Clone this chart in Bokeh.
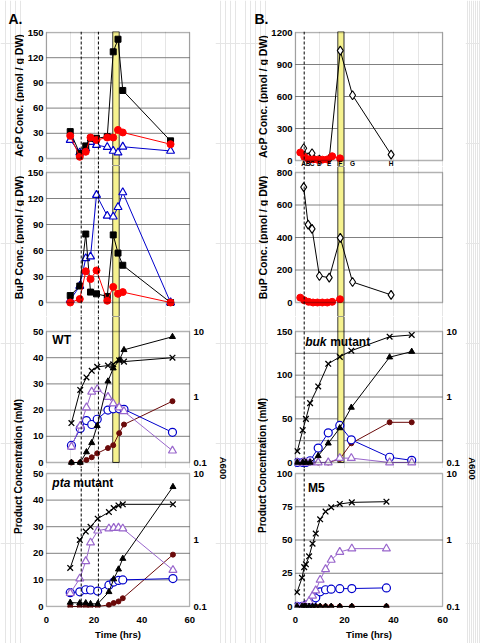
import math
from bokeh.plotting import figure
from bokeh.layouts import row, column
from bokeh.models import (Range1d, LogAxis, LogScale, FixedTicker, NumeralTickFormatter,
                          BoxAnnotation, Span, Label)
from bokeh.core.properties import value
from bokeh.embed import file_html
from bokeh.resources import INLINE

# ------------------------------------------------------------------ data
# ---- A. phosphate pools (wild type) ----
t_wt_phos = [10, 14, 16.5, 18.5, 21, 25.5, 28, 30, 32, 52]
acp_wt_sq = [32, 6, 15, 24, 24, 26, 127, 142, 81, 21]
acp_wt_ci = [27, 2, 8, 25, 22, 25, 25, 34, 31, 17]
acp_wt_tr = [22, 7, 12, 19.5, 16, 13.5, 9, 7, 14, 9]
bup_wt_sq = [8, 19, 79, 12, 10, 7, 78, 57, 43, 0]
bup_wt_ci = [0, 4, 36, 27, 37, 2, 18, 10, 12, 0]
bup_wt_tr = [3, 19, 51, 53, 124, 100, 99, 110, 127, 0]

# ---- A. products, WT ----
t_wt = [10.5, 14.2, 16.8, 19, 21.3, 25.8, 28, 30.5, 32.5, 52.8]
wt_a600 = [0.40, 1.28, 1.99, 2.51, 2.88, 3.02, 3.16, 3.63, 3.47, 3.98]
wt_tri = [0, 0, 4, 7.5, 14, 31, 36, 39, 43, 48]
wt_purple = [6, 14, 21, 27, 28, 25, 22.5, 21, 19.5, 4.5]
wt_blue = [6.5, 13, 16, 14.5, 16.5, 20, 20.5, 20.5, 20.3, 11.5]
wt_maroon = [0, 0, 1, 2, 3.5, 5.5, 6.6, 11.2, 14.5, 23.4]

# ---- A. products, pta mutant ----
t_pta = [10, 14, 16.5, 18.5, 21.5, 26.2, 28.2, 30.2, 32, 53]
pta_a600 = [0.38, 1.0, 1.34, 1.58, 2.09, 2.63, 3.02, 3.31, 3.44, 3.44]
pta_tri = [1.5, 1.3, 1.3, 1, 1, 5.5, 10.3, 14, 18, 45]
pta_purple = [5, 10.5, 17, 24, 28.5, 29.3, 29.5, 29.6, 29.3, 13.7]
pta_blue = [5.2, 5.5, 6.3, 6.2, 5.8, 8, 9.2, 9.8, 10, 10.5]
pta_maroon = [0, 0, 0, 0, 0, 0.6, 1.3, 1.9, 3.1, 19.5]

# ---- B. phosphate pools (buk mutant) ----
t_samp = [3.4, 5.2, 6.8, 9.8, 13.8, 18.3, 23.3, 39.0]
samp_letters = ["A", "B", "C", "D", "E", "F", "G", "H"]
acp_buk_dia = [115, 30, 68, 8, 15, 1030, 612, 55]
bup_buk_dia = [710, 479, 453, 163, 153, 398, 126, 47]
t_red = [2.0, 3.6, 5.4, 7.2, 9.0, 11.0, 13.0, 15.0, 18.2]
acp_red = [75, 35, 12, 10, 8, 8, 10, 40, 20]
bup_red = [30, 14, 4, 0, 0, 0, 0, 4, 20]

# ---- B. products, buk mutant ----
t_buk = [0.8, 3.0, 4.3, 6.0, 9.3, 13.4, 18.1, 22.8, 38.4, 47.4]
buk_a600 = [0.149, 0.311, 0.464, 0.807, 1.45, 3.21, 4.10, 5.09, 8.32, 8.85]
buk_tri = [0, 0, 0, 0, 7.6, 22, 39.5, 63, 120.6, 127]
buk_blue = [0, 0, 0, 2, 16.5, 34, 42.5, 26, 6, 2.5]
buk_purple = [0, 0, 0, 0, 0, 0, 5, 5, 0, 0]
buk_maroon = [0, 0, 0, 0, 0, 0, 4, 22, 46, 46]

# ---- B. products, M5 ----
t_m5 = [0.7, 2.7, 3.6, 4.3, 5.6, 7.0, 8.3, 10.1, 12.3, 14.6, 18.1, 23.0, 37.1]
m5_a600 = [0.164, 0.270, 0.391, 0.431, 0.568, 0.879, 1.25, 2.05, 2.68, 3.10, 3.48, 3.68, 3.77]
m5_tri = [0, 0, 0, 0, 0, 0, 0, 0, 0, 0, 0, 0, 0]
m5_purple = [0, 0, 0, 1, 4, 8, 12, 20, 28, 35, 41, 43.5, 43.5]
m5_blue = [0, 0, 0, 1, 2, 4.5, 6.5, 11, 12.6, 13, 13.4, 13.5, 14]
m5_maroon = [0, 0, 0, 0, 0, 0, 0, 0, 0, 0, 0, 0, 0]

# axis ticks
x_lim = (0, 60)
x_pad = 0.35
x_ticks = [0, 20, 40, 60]
a600_ticks = [0.1, 1, 10]
acp_a_ticks = [0, 30, 60, 90, 120, 150]
acp_a_grid = [30, 60, 90, 120]
prod_a_ticks = [0, 10, 20, 30, 40, 50]
prod_a_grid = [10, 20, 30, 40]
acp_b_ticks = [0, 300, 600, 900, 1200]
acp_b_grid = [300, 600, 900]
bup_b_ticks = [0, 200, 400, 600, 800]
bup_b_grid = [200, 400, 600]
buk_ticks = [0, 50, 100, 150]
buk_grid = [25, 50, 75, 100, 125]
m5_ticks = [0, 25, 50, 75, 100]
m5_grid = [25, 50, 75]

# event markers
dash_a = [14.6, 21.8]
band_a = (27.8, 30.5)
dash_b = [3.6]
band_b = (17.3, 19.8)

# ------------------------------------------------------------------ style
SANS = "Liberation Sans"
GRID = "#808080"
YELLOW = "#f6f28e"
BAND_EDGE = "#3a3a3a"
PURPLE = "#9966cc"
BLUE = "#0000cc"
MAROON = "#6b0a0a"
RED = "#ff0000"
COL_H = 643


def style_axis(ax):
    ax.axis_line_color = None
    ax.major_tick_out = 0
    ax.major_tick_in = 0
    ax.minor_tick_out = 0
    ax.minor_tick_in = 0
    ax.major_label_text_font = SANS
    ax.major_label_text_font_size = "9.5px"
    ax.major_label_text_font_style = "bold"
    ax.major_label_text_color = "black"
    ax.major_label_standoff = 2
    ax.axis_label_text_font = SANS
    ax.axis_label_text_font_size = "9.5px"
    ax.axis_label_text_font_style = "bold"
    ax.axis_label_text_color = "black"
    ax.axis_label_standoff = 3


def make_panel(width, bl, br, bt, bb, ftop, fbot, ptop, pbot, ymax, yticks, gticks,
               xaxis=False, a600=False):
    k = ymax / (pbot - ptop)
    y0 = -(fbot - pbot) * k
    y1 = ymax + (ptop - ftop) * k
    height = bt + (fbot - ftop) + bb
    p = figure(width=width, height=height,
               x_range=Range1d(x_lim[0] - x_pad, x_lim[1] + x_pad), y_range=Range1d(y0, y1),
               x_axis_location="below" if xaxis else None, y_axis_location="left",
               output_backend="svg", toolbar_location=None,
               min_border_left=bl, min_border_right=br,
               min_border_top=bt, min_border_bottom=bb)
    p.outline_line_color = None
    ya = p.yaxis[0]
    style_axis(ya)
    ya.ticker = FixedTicker(ticks=yticks)
    p.ygrid.visible = False
    # horizontal grid lines limited to the panel box
    p.segment(x0=[x_lim[0]] * len(gticks), x1=[x_lim[1]] * len(gticks), y0=gticks, y1=gticks,
              line_color=GRID, line_width=1)
    if xaxis:
        p.xgrid.visible = False
        xa = p.xaxis[0]
        style_axis(xa)
        xa.major_label_standoff = 9
        xa.ticker = FixedTicker(ticks=x_ticks)
        xa.axis_label = "Time (hrs)"
    if a600:
        lk = 2.0 / (pbot - ptop)
        lo = 10 ** (-1 - (fbot - pbot) * lk)
        hi = 10 ** (1 + (ptop - ftop) * lk)
        p.extra_y_ranges = {"a600": Range1d(lo, hi)}
        p.extra_y_scales = {"a600": LogScale()}
        ra = LogAxis(y_range_name="a600", ticker=FixedTicker(ticks=a600_ticks),
                     formatter=NumeralTickFormatter(format="0.[0]"))
        style_axis(ra)
        ra.major_label_standoff = 3
        p.add_layout(ra, "right")
    return p, y0, y1


def add_band(p, band, y0, y1, stop_at_zero=False):
    span = y1 - y0
    bottom = 0 if stop_at_zero else y0 - span
    p.vbar(x=[(band[0] + band[1]) / 2], width=band[1] - band[0],
           bottom=bottom, top=y1 + span,
           fill_color=YELLOW, line_color=BAND_EDGE, line_width=1)


def add_frame(p, ymax, dashes):
    for d in dashes:
        p.add_layout(Span(location=d, dimension="height", line_color="black",
                          line_dash="3 2", line_width=1))
    p.add_layout(BoxAnnotation(left=x_lim[0], right=x_lim[1], bottom=0, top=ymax,
                               fill_color=None, line_color="black", line_width=1.5))


def series(p, x, y, marker, color, fill, size, lw=1.0, rng="default"):
    p.line(x, y, line_color=color, line_width=1, y_range_name=rng)
    p.scatter(x, y, marker=marker, size=size, line_color=color, fill_color=fill,
              line_width=lw, y_range_name=rng)


def products(p, t, a600, tri, purple, blue, maroon):
    series(p, t, maroon, "circle", MAROON, MAROON, 5)
    series(p, t, blue, "circle", BLUE, "white", 8, 1.2)
    series(p, t, purple, "triangle", PURPLE, "white", 8, 1.2)
    series(p, t, tri, "triangle", "black", "black", 6)
    series(p, t, a600, "x", "black", None, 8, 1.3, rng="a600")


def panel_label(p, x, y, italic, rest, offset):
    if italic:
        p.add_layout(Label(x=x, y=y, text=italic, text_baseline="top", text_font=SANS,
                           text_font_size="12px", text_font_style="bold italic",
                           text_color="black"))
    p.add_layout(Label(x=x, y=y, x_offset=offset, text=rest, text_baseline="top",
                       text_font=SANS, text_font_size="12px", text_font_style="bold",
                       text_color="black"))


def strip(width, items):
    s = figure(width=width, height=COL_H, x_range=Range1d(0, width), y_range=Range1d(0, COL_H),
               x_axis_location=None, y_axis_location=None, output_backend="svg",
               toolbar_location=None, min_border=0)
    s.outline_line_color = None
    for (x, page_y, txt, ang, size, align, base) in items:
        s.text(x=[x], y=[COL_H - page_y], text=[txt], angle=ang,
               text_align=align, text_baseline=base, text_font=value(SANS),
               text_font_size=size, text_font_style="bold", text_color="black")
    return s


UP = math.pi / 2
DOWN = -math.pi / 2

# ------------------------------------------------------------------ column A
PW_A, BL_A, BR_A = 191, 18, 25
a_acp, y0, y1 = make_panel(PW_A, BL_A, BR_A, 31, 0, 31, 165, 32, 158, 150,
                           acp_a_ticks, acp_a_grid)
add_band(a_acp, band_a, y0, y1)
series(a_acp, t_wt_phos, acp_wt_tr, "triangle", BLUE, "white", 8, 1.2)
series(a_acp, t_wt_phos, acp_wt_sq, "square", "black", "black", 6)
series(a_acp, t_wt_phos, acp_wt_ci, "circle", RED, RED, 7)
add_frame(a_acp, 150, dash_a)

a_bup, y0, y1 = make_panel(PW_A, BL_A, BR_A, 0, 0, 165, 316, 172, 302, 150,
                           acp_a_ticks, acp_a_grid)
add_band(a_bup, band_a, y0, y1)
series(a_bup, t_wt_phos, bup_wt_tr, "triangle", BLUE, "white", 8, 1.2)
series(a_bup, t_wt_phos, bup_wt_sq, "square", "black", "black", 6)
series(a_bup, t_wt_phos, bup_wt_ci, "circle", RED, RED, 7)
add_frame(a_bup, 150, dash_a)

a_wt, y0, y1 = make_panel(PW_A, BL_A, BR_A, 0, 0, 316, 468, 331, 462, 50,
                          prod_a_ticks, prod_a_grid, a600=True)
add_band(a_wt, band_a, y0, y1, stop_at_zero=True)
products(a_wt, t_wt, wt_a600, wt_tri, wt_purple, wt_blue, wt_maroon)
add_frame(a_wt, 50, dash_a)
panel_label(a_wt, 2.5, 49.5, None, "WT", 0)

a_pta, y0, y1 = make_panel(PW_A, BL_A, BR_A, 0, 36, 468, 607, 473, 606, 50,
                           prod_a_ticks, prod_a_grid, xaxis=True, a600=True)
products(a_pta, t_pta, pta_a600, pta_tri, pta_purple, pta_blue, pta_maroon)
add_frame(a_pta, 50, dash_a)
panel_label(a_pta, 2.5, 49.0, "pta", "mutant", 21)

strip_a_l = strip(24, [
    (8, 18.5, "A.", 0, "14px", "left", "alphabetic"),
    (18, 95, "AcP Conc. (pmol / g DW)", UP, "10.5px", "center", "middle"),
    (18, 237, "BuP Conc. (pmol / g DW)", UP, "10.5px", "center", "middle"),
    (18, 466, "Product Concentration (mM)", UP, "10px", "center", "middle"),
])
strip_a_r = strip(25, [
    (8, 467.5, "A600", DOWN, "9.5px", "center", "middle"),
])

# ------------------------------------------------------------------ column B
PW_B, BL_B, BR_B = 197, 24, 22
b_acp, y0, y1 = make_panel(PW_B, BL_B, BR_B, 31, 0, 31, 166, 32, 160, 1200,
                           acp_b_ticks, acp_b_grid)
add_band(b_acp, band_b, y0, y1)
series(b_acp, t_samp, acp_buk_dia, "diamond", "black", "white", 9, 1.1)
series(b_acp, t_red, acp_red, "circle", RED, RED, 7)
add_frame(b_acp, 1200, dash_b)
b_acp.text(x=t_samp, y=[0] * len(t_samp), text=samp_letters, y_offset=6,
           text_align="center", text_baseline="bottom", text_font=value(SANS),
           text_font_size="6.5px", text_font_style="bold", text_color="black")

b_bup, y0, y1 = make_panel(PW_B, BL_B, BR_B, 0, 0, 166, 316, 172, 302, 800,
                           bup_b_ticks, bup_b_grid)
add_band(b_bup, band_b, y0, y1)
series(b_bup, t_samp, bup_buk_dia, "diamond", "black", "white", 9, 1.1)
series(b_bup, t_red, bup_red, "circle", RED, RED, 7)
add_frame(b_bup, 800, dash_b)

b_buk, y0, y1 = make_panel(PW_B, BL_B, BR_B, 0, 0, 316, 468, 331, 462, 150,
                           buk_ticks, buk_grid, a600=True)
add_band(b_buk, band_b, y0, y1, stop_at_zero=True)
products(b_buk, t_buk, buk_a600, buk_tri, buk_purple, buk_blue, buk_maroon)
add_frame(b_buk, 150, dash_b)
panel_label(b_buk, 4.0, 145.5, "buk", "mutant", 25)

b_m5, y0, y1 = make_panel(PW_B, BL_B, BR_B, 0, 36, 468, 607, 473, 606, 100,
                          m5_ticks, m5_grid, xaxis=True, a600=True)
products(b_m5, t_m5, m5_a600, m5_tri, m5_purple, m5_blue, m5_maroon)
add_frame(b_m5, 100, dash_b)
panel_label(b_m5, 5.2, 94.5, None, "M5", 0)

strip_b_l = strip(28, [
    (14, 18.5, "B.", 0, "14px", "left", "alphabetic"),
    (22, 96, "AcP Conc. (pmol / g DW)", UP, "10.5px", "center", "middle"),
    (22, 237, "BuP Conc. (pmol / g DW)", UP, "10.5px", "center", "middle"),
    (22, 465, "Product Concentration (mM)", UP, "10px", "center", "middle"),
])
strip_b_r = strip(15, [
    (7, 468, "A600", DOWN, "9.5px", "center", "middle"),
])

layout = row(
    row(strip_a_l, column(a_acp, a_bup, a_wt, a_pta), strip_a_r),
    row(strip_b_l, column(b_acp, b_bup, b_buk, b_m5), strip_b_r),
)

open("out.html", "w").write(file_html(layout, INLINE))
